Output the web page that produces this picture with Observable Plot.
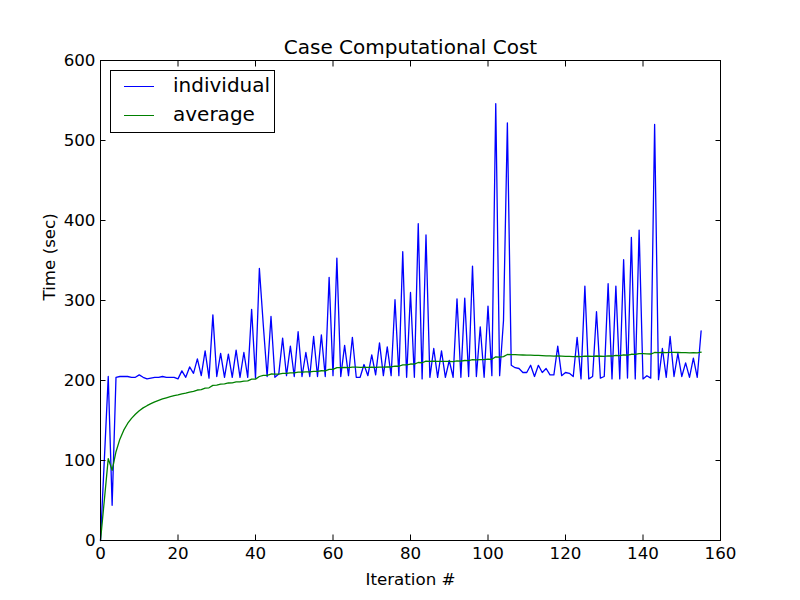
<!DOCTYPE html>
<html>
<head>
<meta charset="utf-8">
<script src="https://cdn.jsdelivr.net/npm/d3@7"></script>
<script src="https://cdn.jsdelivr.net/npm/@observablehq/plot@0.6"></script>
<style>
  body { margin: 0; background: white; }
  #chart { position: relative; width: 800px; height: 600px; font-family: "DejaVu Sans", sans-serif; }
  #legend {
    position: absolute; left: 110px; top: 70px; width: 165px; height: 63px;
    border: 1px solid black; background: white; box-sizing: border-box;
  }
  #legend .row { position: absolute; left: 0; height: 20px; font-size: 20px; line-height: 20px; }
  #legend .swatch { position: absolute; left: 13px; width: 30px; height: 0; border-top: 1.3px solid; top: 9px; }
  #legend .label { position: absolute; left: 62px; top: -2px; white-space: nowrap; }
</style>
</head>
<body>
<div id="chart"></div>
<script>
// values
const individual = [
  0, 102, 205, 44, 204, 205, 205, 205, 204, 204,
  207, 204, 202, 203, 204, 204, 205, 204, 204, 204,
  202, 212, 204, 217, 209, 227, 206, 237, 203, 282,
  205, 234, 204, 233, 204, 238, 204, 235, 204, 289,
  203, 340, 270, 205, 280, 204, 208, 253, 206, 243,
  205, 261, 205, 235, 205, 255, 205, 257, 205, 329,
  206, 353, 205, 244, 206, 254, 204, 204, 220, 206,
  232, 207, 247, 206, 242, 206, 301, 206, 361, 204,
  310, 204, 396, 202, 382, 204, 240, 204, 237, 204,
  225, 204, 302, 204, 303, 205, 343, 205, 267, 204,
  293, 206, 546, 206, 275, 522, 219, 216, 215, 210,
  210, 219, 205, 219, 210, 215, 207, 207, 243, 206,
  210, 209, 205, 254, 202, 318, 202, 205, 286, 203,
  205, 321, 202, 318, 202, 351, 203, 379, 202, 388,
  202, 206, 203, 520, 201, 240, 204, 255, 205, 234,
  205, 222, 204, 228, 204, 262
];

const average = [
  0, 51, 102.3, 87.8, 111, 126.7, 137.9, 146.3, 152.7, 157.8,
  162.3, 165.8, 168.5, 171, 173.2, 175.1, 176.9, 178.4, 179.7, 181,
  182, 183.3, 184.2, 185.6, 186.5, 188.1, 188.7, 190.5, 190.9, 193.9,
  194.3, 195.5, 195.8, 196.9, 197.1, 198.2, 198.4, 199.3, 199.5, 201.7,
  201.7, 205, 206.5, 206.5, 208.1, 208, 208, 209, 208.9, 209.6,
  209.5, 210.5, 210.4, 210.9, 210.7, 211.5, 211.4, 212.2, 212.1, 214,
  213.9, 216.1, 216, 216.4, 216.2, 216.8, 216.6, 216.4, 216.5, 216.3,
  216.6, 216.4, 216.8, 216.7, 217, 216.9, 218, 217.8, 219.6, 219.5,
  220.6, 220.4, 222.5, 222.2, 224.1, 223.9, 224.1, 223.8, 224, 223.8,
  223.8, 223.6, 224.4, 224.2, 225, 224.8, 226, 225.8, 226.2, 226,
  226.7, 226.5, 229.6, 229.3, 229.8, 232.5, 232.4, 232.3, 232.1, 231.9,
  231.7, 231.6, 231.4, 231.3, 231.1, 230.9, 230.7, 230.5, 230.6, 230.4,
  230.2, 230.1, 229.9, 230.1, 229.8, 230.5, 230.3, 230.1, 230.6, 230.3,
  230.1, 230.8, 230.6, 231.3, 231.1, 232, 231.7, 232.8, 232.6, 233.7,
  233.5, 233.3, 233.1, 235, 234.8, 235.1, 234.9, 235.2, 235.1, 235,
  234.8, 234.8, 234.6, 234.7, 234.6, 235.5
];

const xTicks = [0, 20, 40, 60, 80, 100, 120, 140, 160];
const yTicks = [0, 100, 200, 300, 400, 500, 600];

const seriesNames = ["individual", "average"];
const seriesColors = ["#0000ff", "#008000"];

// table for plot: one row per iteration
const rows = individual.map((v, i) => ({iter: i, individual: v, average: average[i]}));

const blank = () => "";

const chart = Plot.plot({
  width: 800,
  height: 600,
  marginLeft: 100,
  marginRight: 80,
  marginTop: 60,
  marginBottom: 60,
  style: {fontFamily: "DejaVu Sans", fontSize: "16.7px", background: "white", color: "black"},
  x: {domain: [0, 160]},
  y: {domain: [0, 600]},
  marks: [
    Plot.line(rows, {x: "iter", y: "individual", stroke: seriesColors[0], strokeWidth: 1.3}),
    Plot.line(rows, {x: "iter", y: "average", stroke: seriesColors[1], strokeWidth: 1.3}),
    Plot.frame({stroke: "black", strokeWidth: 1}),
    // inward ticks on all four sides
    Plot.axisX(xTicks, {anchor: "bottom", tickSize: -5.5, tickFormat: blank, label: null}),
    Plot.axisX(xTicks, {anchor: "top", tickSize: -5.5, tickFormat: blank, label: null}),
    Plot.axisY(yTicks, {anchor: "left", tickSize: -5.5, tickFormat: blank, label: null}),
    Plot.axisY(yTicks, {anchor: "right", tickSize: -5.5, tickFormat: blank, label: null}),
    // tick labels
    Plot.axisX(xTicks, {anchor: "bottom", tickSize: 0, tickPadding: 7, fontSize: 16.7, label: null}),
    Plot.axisY(yTicks, {anchor: "left", tickSize: 0, tickPadding: 5, fontSize: 16.7, label: null}),
    // titles
    Plot.text(["Case Computational Cost"], {text: d => d, frameAnchor: "top", lineAnchor: "bottom", dy: -7, fontSize: 20}),
    Plot.text(["Iteration #"], {text: d => d, frameAnchor: "bottom", lineAnchor: "bottom", dy: 44, fontSize: 16.7}),
    Plot.text(["Time (sec)"], {text: d => d, frameAnchor: "left", lineAnchor: "bottom", rotate: -90, dx: -46, fontSize: 16.7})
  ]
});

const holder = d3.select("#chart");
holder.append(() => chart);

// legend box in the upper left
const legend = holder.append("div").attr("id", "legend");
seriesNames.forEach((name, i) => {
  const row = legend.append("div").attr("class", "row").style("top", (6 + i * 29) + "px").style("width", "160px");
  row.append("div").attr("class", "swatch").style("border-color", seriesColors[i]);
  row.append("div").attr("class", "label").text(name);
});
</script>
</body>
</html>
